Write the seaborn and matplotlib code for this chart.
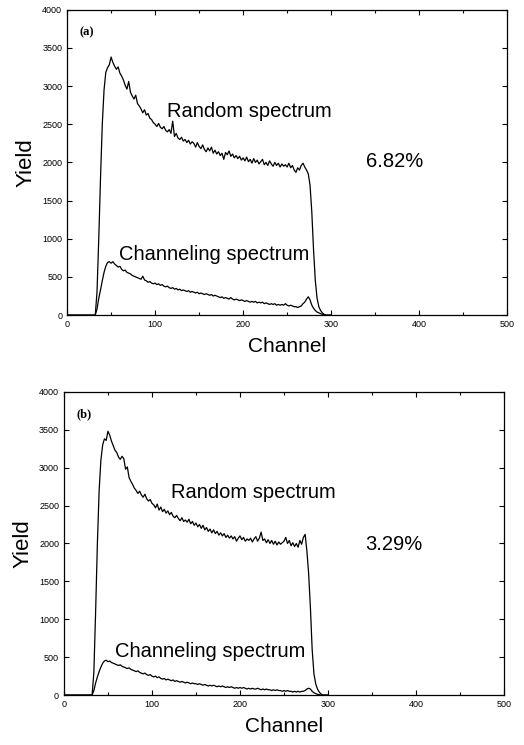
import numpy as np
import pandas as pd
import matplotlib
matplotlib.use('Agg')
import matplotlib.pyplot as plt
import seaborn as sns

# channel grid (every 2 channels over the spectrum) plus baseline ends
channel = np.concatenate([[0, 32], np.arange(34, 298, 2), [300]])

random_a = [
    300, 1000, 1800, 2500, 2950, 3180, 3240, 3280, 3380, 3310, 3260, 3220,
    3250, 3170, 3130, 3080, 3010, 2960, 3060, 2920, 2870, 2830, 2880, 2770,
    2740, 2700, 2650, 2690, 2620, 2640, 2580, 2560, 2520, 2500, 2470, 2510,
    2460, 2440, 2470, 2420, 2400, 2430, 2380, 2540, 2340, 2380, 2320, 2300,
    2330, 2280, 2300, 2260, 2290, 2240, 2270, 2250, 2200, 2260, 2210, 2180,
    2230, 2170, 2140, 2190, 2150, 2200, 2120, 2160, 2110, 2140, 2090, 2120,
    2040, 2130, 2100, 2150, 2080, 2110, 2060, 2090, 2050, 2080, 2030, 2060,
    2020, 2070, 2010, 2040, 1990, 2050, 2000, 2030, 1980, 2010, 2040, 1970,
    2000, 1960, 2020, 1980, 1950, 2000, 1960, 1990, 1940, 1980, 1950, 1970,
    1940, 1990, 1930, 1960, 1900, 1870, 1930, 1900, 1960, 1990, 1940, 1900,
    1850, 1700, 1350, 850, 450, 220, 110, 60, 30, 10, 0, 0]

channeling_a = [
    80, 220, 330, 450, 560, 640, 690, 700, 680, 700, 670, 650,
    630, 640, 600, 580, 590, 560, 550, 540, 520, 510, 500, 490,
    480, 470, 510, 460, 450, 430, 440, 420, 410, 420, 400, 410,
    390, 400, 380, 370, 380, 360, 350, 360, 340, 350, 330, 340,
    320, 330, 320, 310, 320, 300, 310, 300, 290, 300, 280, 290,
    280, 270, 280, 270, 260, 270, 250, 260, 250, 240, 230, 240,
    220, 230, 220, 210, 230, 210, 200, 210, 200, 190, 200, 190,
    180, 190, 180, 170, 180, 170, 180, 160, 170, 160, 170, 150,
    160, 150, 140, 150, 140, 150, 130, 140, 130, 140, 130, 150,
    130, 120, 130, 120, 110, 110, 100, 110, 120, 150, 170, 210,
    240, 200, 130, 90, 60, 40, 30, 20, 10, 5, 0, 0]

random_b = [
    300, 1100, 2000, 2700, 3100, 3300, 3380, 3360, 3480, 3430, 3350, 3290,
    3230, 3200, 3140, 3110, 3150, 3120, 2980, 3010, 2870, 2820, 2780, 2730,
    2700, 2660, 2690, 2640, 2610, 2650, 2590, 2560, 2580, 2530, 2510, 2470,
    2520, 2440, 2480, 2420, 2450, 2400, 2430, 2380, 2410, 2360, 2340, 2370,
    2330, 2300, 2340, 2290, 2310, 2280, 2320, 2260, 2290, 2240, 2270, 2220,
    2250, 2200, 2240, 2180, 2210, 2160, 2190, 2140, 2180, 2130, 2160, 2110,
    2140, 2100, 2130, 2080, 2110, 2070, 2100, 2060, 2090, 2030, 2070, 2100,
    2050, 2080, 2030, 2060, 2040, 2070, 2020, 2060, 2090, 2030, 2070, 2150,
    2040, 2060, 2010, 2050, 2000, 2040, 1990, 2030, 1980, 2020, 1990, 2010,
    2030, 2080, 2000, 2040, 1970, 2010, 1960, 2000, 1950, 2040, 1990, 2080,
    2120, 1900, 1600, 1150, 600, 280, 150, 80, 40, 15, 0, 0]

channeling_b = [
    60, 160, 240, 310, 370, 420, 450, 460, 440, 450, 430, 420,
    410, 400, 390, 400, 380, 370, 360, 350, 360, 340, 330, 320,
    310, 320, 300, 290, 280, 290, 270, 260, 270, 250, 240, 250,
    230, 240, 220, 210, 220, 200, 210, 200, 190, 200, 180, 190,
    180, 170, 180, 170, 160, 170, 160, 150, 160, 150, 150, 140,
    150, 140, 130, 140, 130, 120, 130, 120, 130, 120, 110, 120,
    110, 120, 110, 100, 110, 100, 110, 100, 90, 100, 90, 100,
    90, 100, 90, 80, 90, 80, 90, 80, 80, 90, 80, 70,
    80, 70, 80, 70, 70, 60, 70, 60, 70, 60, 60, 50,
    60, 50, 60, 50, 50, 40, 50, 40, 50, 40, 50, 50,
    60, 80, 90, 80, 50, 30, 20, 10, 5, 0, 0, 0]

panels = [
    {'tag': '(a)', 'rand': random_a, 'chan': channeling_a, 'pct': '6.82%',
     'rand_xy': (114, 2670), 'chan_xy': (59, 800), 'pct_xy': (340, 2010),
     'rect': [0.128, 0.577, 0.840, 0.410]},
    {'tag': '(b)', 'rand': random_b, 'chan': channeling_b, 'pct': '3.29%',
     'rand_xy': (122, 2670), 'chan_xy': (58, 580), 'pct_xy': (342, 1990),
     'rect': [0.122, 0.067, 0.840, 0.407]},
]

sns.set_style('ticks')
plt.rcParams['font.family'] = ['Liberation Sans', 'DejaVu Sans']
plt.rcParams['text.color'] = 'black'
plt.rcParams['axes.labelcolor'] = 'black'
plt.rcParams['xtick.color'] = 'black'
plt.rcParams['ytick.color'] = 'black'

fig = plt.figure(figsize=(5.24, 7.45), dpi=100)

for p in panels:
    ax = fig.add_axes(p['rect'])
    ends = [0, 0]
    df = pd.DataFrame({'Channel': channel,
                       'random': ends + list(p['rand']) + [0],
                       'channeling': ends + list(p['chan']) + [0]})
    sns.lineplot(data=df, x='Channel', y='random', ax=ax, color='black', lw=0.9)
    sns.lineplot(data=df, x='Channel', y='channeling', ax=ax, color='black', lw=0.9)

    ax.set_xlim(0, 500)
    ax.set_ylim(0, 4000)
    ax.set_xticks(np.arange(0, 501, 100))
    ax.set_xticks(np.arange(0, 501, 50), minor=True)
    ax.set_yticks(np.arange(0, 4001, 500))
    ax.tick_params(axis='both', which='both', direction='in', top=True, right=True,
                   labelsize=6.5, width=0.8)
    ax.tick_params(which='major', length=3.5)
    ax.tick_params(which='minor', length=2)
    for s in ax.spines.values():
        s.set_linewidth(0.9)
        s.set_color('black')

    ax.set_xlabel('Channel', fontsize=15, labelpad=6)
    ax.set_ylabel('Yield', fontsize=16, labelpad=4)

    ax.text(14, 3700, p['tag'], fontsize=9, fontweight='bold', va='center',
            family=['Liberation Serif', 'DejaVu Serif'])
    ax.text(*p['rand_xy'], 'Random spectrum', fontsize=14.5, va='center')
    ax.text(*p['chan_xy'], 'Channeling spectrum', fontsize=14.5, va='center')
    ax.text(*p['pct_xy'], p['pct'], fontsize=14.5, va='center')

fig.savefig('out.png', dpi=100)
